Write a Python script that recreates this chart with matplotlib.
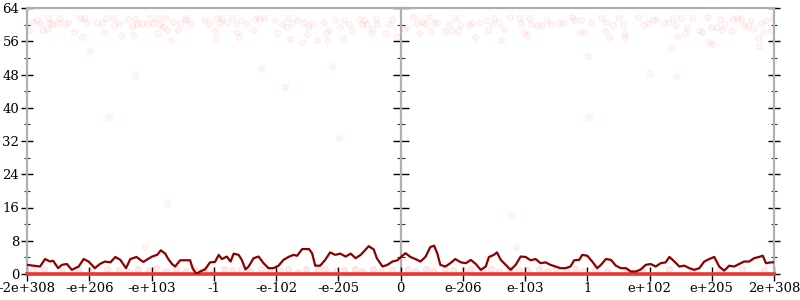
import matplotlib
matplotlib.use("Agg")
import matplotlib.pyplot as plt

# x axis is in "tick units": -6 = -2e+308 ... 0 ... 6 = 2e+308
tick_vals = [-6, -5, -4, -3, -2, -1, 0, 1, 2, 3, 4, 5, 6]
tick_labels = ["-2e+308", "-e+206", "-e+103", "-1", "-e-102", "-e-205", "0",
               "e-206", "e-103", "1", "e+102", "e+205", "2e+308"]
y_ticks = [0, 8, 16, 24, 32, 40, 48, 56, 64]

# smoothed error line (ulps)
line_x = [-6.0, -5.90, -5.79, -5.71, -5.63, -5.58, -5.50, -5.44, -5.36, -5.28, -5.17, -5.09,
          -5.01, -4.91, -4.83, -4.75, -4.66, -4.58, -4.50, -4.41, -4.34, -4.24, -4.18, -4.13,
          -4.08, -3.99, -3.91, -3.85, -3.78, -3.73, -3.67, -3.62, -3.54, -3.46, -3.38, -3.34,
          -3.28, -3.22, -3.14, -3.06, -2.98, -2.92, -2.87, -2.79, -2.73, -2.68, -2.60, -2.55,
          -2.49, -2.44, -2.36, -2.28, -2.20, -2.12, -2.04, -1.96, -1.88, -1.80, -1.72, -1.66,
          -1.58, -1.47, -1.42, -1.37, -1.29, -1.21, -1.13, -1.05, -0.97, -0.88, -0.80, -0.72,
          -0.64, -0.59, -0.51, -0.43, -0.38, -0.29, -0.21, -0.13, -0.05, 0.0,
          0.08, 0.16, 0.24, 0.32, 0.40, 0.48, 0.54, 0.59, 0.64, 0.72, 0.80, 0.88, 0.97, 1.05,
          1.13, 1.21, 1.29, 1.37, 1.42, 1.50, 1.55, 1.61, 1.69, 1.77, 1.85, 1.93, 2.01, 2.09,
          2.17, 2.25, 2.33, 2.41, 2.49, 2.57, 2.65, 2.73, 2.79, 2.87, 2.92, 3.00, 3.08, 3.16,
          3.22, 3.30, 3.38, 3.46, 3.54, 3.62, 3.70, 3.78, 3.86, 3.94, 4.02, 4.10, 4.18, 4.26,
          4.32, 4.40, 4.48, 4.56, 4.64, 4.72, 4.80, 4.88, 4.96, 5.04, 5.12, 5.20, 5.28, 5.36,
          5.44, 5.52, 5.60, 5.68, 5.76, 5.82, 5.87, 5.95, 6.0]
line_y = [2.2, 2.0, 1.8, 3.6, 3.0, 3.2, 1.4, 2.2, 2.4, 1.0, 1.8, 3.6,
          3.0, 1.4, 2.4, 3.0, 2.8, 4.1, 3.4, 1.4, 3.6, 4.1, 3.4, 2.9,
          3.4, 4.2, 4.6, 5.7, 4.9, 3.6, 2.4, 1.8, 3.3, 3.3, 3.3, 1.4,
          0.0, 0.6, 1.1, 2.8, 2.9, 4.6, 3.6, 4.2, 3.0, 4.9, 4.6, 3.4,
          1.1, 1.8, 3.8, 4.2, 2.6, 1.4, 1.4, 2.0, 3.4, 4.1, 4.6, 4.4,
          6.0, 6.0, 5.0, 2.0, 2.0, 3.4, 5.2, 4.6, 4.9, 4.2, 4.9, 3.8,
          4.6, 5.4, 6.7, 5.9, 3.8, 1.8, 2.2, 3.0, 3.3, 4.0,
          5.0, 4.1, 3.6, 3.0, 4.1, 6.5, 6.8, 5.0, 2.2, 1.8, 2.6, 3.6, 2.8, 2.6,
          3.4, 2.4, 1.0, 1.8, 4.1, 4.6, 5.2, 3.4, 2.2, 1.0, 2.2, 4.2, 4.1, 3.3,
          3.6, 2.6, 2.8, 2.2, 1.8, 1.4, 1.4, 1.8, 3.3, 3.4, 4.6, 4.4, 3.0, 1.4,
          2.2, 3.6, 3.4, 2.0, 1.4, 1.4, 0.6, 0.6, 1.1, 2.2, 2.4, 1.8, 2.6, 2.8,
          4.1, 3.0, 1.8, 2.0, 1.4, 1.0, 1.4, 3.0, 3.6, 4.1, 1.8, 0.8, 2.0, 1.8,
          2.4, 3.0, 3.0, 3.8, 4.1, 4.4, 2.6, 2.8, 2.8]

# individual error samples (high band)
pts_x = [-5.96, -5.92, -5.84, -5.79, -5.74, -5.68, -5.67, -5.63, -5.60, -5.50, -5.47, -5.39,
         -5.34, -5.25, -5.15, -5.12, -5.09, -5.03, -4.99, -4.88, -4.80, -4.76, -4.73, -4.69,
         -4.62, -4.60, -4.53, -4.49, -4.37, -4.32, -4.30, -4.27, -4.26, -4.24, -4.16, -4.08,
         -4.02, -3.98, -3.91, -3.89, -3.86, -3.81, -3.78, -3.75, -3.69, -3.65, -3.57, -3.54,
         -3.46, -3.44, -3.38, -3.16, -3.08, -2.98, -2.96, -2.95, -2.90, -2.87, -2.79, -2.71,
         -2.65, -2.63, -2.60, -2.57, -2.47, -2.37, -2.33, -2.28, -2.24, -2.20, -2.01, -1.99,
         -1.90, -1.85, -1.82, -1.81, -1.78, -1.74, -1.66, -1.58, -1.55, -1.51, -1.49, -1.42,
         -1.34, -1.23, -1.19, -1.18, -1.15, -1.10, -1.05, -0.99, -0.97, -0.92, -0.91, -0.83,
         -0.78, -0.67, -0.62, -0.59, -0.54, -0.48, -0.46, -0.40, -0.38, -0.24, -0.19, -0.13,
         -0.05,
         0.05, 0.11, 0.20, 0.27, 0.29, 0.35, 0.40, 0.46, 0.49, 0.54, 0.58, 0.72, 0.78, 0.83,
         0.87, 0.92, 0.95, 1.10, 1.13, 1.19, 1.26, 1.37, 1.40, 1.47, 1.51, 1.58, 1.62, 1.66,
         1.76, 1.90, 1.93, 1.99, 2.03, 2.06, 2.09, 2.20, 2.28, 2.36, 2.42, 2.55, 2.63, 2.76,
         2.79, 2.87, 2.90, 2.95, 3.02, 3.03, 3.06, 3.22, 3.28, 3.30, 3.35, 3.42, 3.51, 3.57,
         3.59, 3.60, 3.82, 3.90, 3.97, 4.01, 4.05, 4.10, 4.24, 4.29, 4.34, 4.37, 4.41, 4.44,
         4.43, 4.50, 4.57, 4.60, 4.69, 4.80, 4.85, 4.93, 4.96, 4.99, 5.01, 5.09, 5.14, 5.17,
         5.20, 5.31, 5.34, 5.40, 5.47, 5.52, 5.58, 5.63, 5.68, 5.75, 5.76, 5.79, 5.82, 5.87,
         5.95, 5.99,
         -3.75, -4.10, 1.77, 1.85]
pts_y = [58.8, 60.7, 61.0, 60.5, 58.8, 59.0, 61.5, 60.5, 60.2, 60.3, 61.5, 60.2,
         60.7, 58.3, 61.5, 57.0, 61.5, 60.7, 53.7, 60.7, 60.5, 58.3, 61.5, 37.8,
         61.5, 59.9, 60.5, 57.6, 61.3, 59.7, 57.6, 47.7, 61.3, 60.2, 60.5, 60.2,
         61.5, 60.5, 57.9, 61.5, 60.2, 59.5, 61.5, 58.7, 56.2, 60.7, 58.7, 60.3,
         61.5, 61.0, 60.2, 61.0, 60.5, 58.5, 56.7, 61.5, 60.5, 61.3, 60.7, 61.5,
         60.2, 58.3, 57.1, 61.0, 60.2, 58.8, 61.3, 61.3, 49.5, 61.5, 61.0, 58.0,
         60.2, 45.0, 59.5, 61.5, 56.5, 60.5, 61.1, 55.8, 60.7, 57.7, 59.7, 60.2,
         56.2, 60.7, 58.0, 56.3, 58.8, 50.0, 61.0, 32.7, 59.5, 56.7, 61.1, 60.2,
         58.8, 61.3, 60.2, 61.0, 60.2, 57.9, 59.0, 61.3, 60.2, 58.0, 60.2, 61.3,
         57.0,
         59.0, 59.5, 61.8, 60.3, 57.9, 60.7, 60.2, 61.8, 58.5, 60.5, 60.7, 58.5, 60.2, 58.5,
         61.5, 58.5, 59.9, 59.9, 60.5, 57.0, 60.5, 61.1, 58.7, 60.2, 61.5, 60.7, 56.3, 59.0,
         61.8, 61.5, 60.5, 58.3, 57.6, 61.5, 60.2, 59.7, 59.9, 61.0, 60.2, 60.5, 60.5, 61.8,
         61.0, 57.9, 61.0, 58.3, 52.5, 37.8, 60.7, 61.5, 58.5, 60.7, 57.0, 59.9, 61.5, 59.9,
         57.9, 57.0, 61.8, 59.9, 60.3, 48.4, 61.0, 61.3, 60.5, 60.7, 54.4, 61.5, 59.9, 57.3,
         47.6, 61.5, 58.0, 59.5, 61.5, 58.8, 58.3, 61.8, 55.8, 59.5, 55.4, 59.5, 61.3, 58.8,
         60.2, 58.5, 61.3, 61.5, 61.3, 59.9, 59.7, 61.0, 59.3, 56.7, 54.9, 60.5, 58.3, 61.0,
         58.8, 61.5,
         16.8, 6.5, 14.2, 6.5]

# individual error samples (low band, near 1 ulp)
low_x = [-5.9, -5.72, -5.43, -5.18, -4.97, -4.71, -4.52, -4.36, -4.21, -4.04, -3.92, -3.77,
         -3.61, -3.44, -3.31, -3.16, -3.02, -2.84, -2.71, -2.56, -2.41, -2.24, -2.11, -1.93,
         -1.81, -1.64, -1.52, -1.33, -1.21, -1.04, -0.91, -0.73, -0.62, -0.44, -0.31, -0.14,
         0.12, 0.24, 0.41, 0.53, 0.72, 0.84, 1.02, 1.14, 1.31, 1.46, 1.58, 1.76, 1.91, 2.04,
         2.22, 2.36, 2.49, 2.66, 2.81, 2.93, 3.12, 3.31, 3.62, 3.88, 4.31, 4.68, 5.12, 5.49,
         5.84]
low_y = [0.9, 1.2, 0.7, 1.1, 0.8, 1.3, 1.0, 0.6, 1.2, 0.9, 1.4, 0.7,
         1.1, 0.8, 1.3, 1.0, 0.6, 1.2, 0.9, 1.1, 0.7, 1.3, 1.0, 0.8,
         1.2, 0.6, 1.1, 0.9, 1.3, 0.7, 1.0, 1.2, 0.8, 1.1, 0.6, 1.0,
         1.2, 0.8, 1.1, 0.7, 1.3, 0.9, 1.0, 1.2, 0.6, 1.1, 0.8, 1.3, 0.9, 1.0,
         1.2, 0.7, 1.1, 0.9, 1.3, 0.8, 1.0, 0.7, 1.2, 0.9, 1.1, 0.8, 1.0, 1.2,
         0.9]

fig = plt.figure(figsize=(8, 3), dpi=100)
pos = [27 / 800, 1 - 274 / 300, (774 - 27) / 800, (274 - 8) / 300]
ax = fig.add_axes(pos)

ax.set_xlim(-6, 6)
ax.set_ylim(0, 64)

gray = "#b0b0b0"
for s in ["left", "right", "top", "bottom"]:
    ax.spines[s].set_color(gray)
    ax.spines[s].set_linewidth(1.6)

# zero-error samples: saturate to a solid red band on the axis
ax.axhline(0, color="#e53935", lw=2.6, zorder=4, clip_on=False)

ax.scatter(pts_x, pts_y, s=18, facecolor=(1, 0, 0, 0.03), edgecolor=(1, 0.2, 0.2, 0.08),
           linewidths=0.8, zorder=2)
ax.scatter(low_x, low_y, s=18, facecolor=(1, 0, 0, 0.08), edgecolor=(1, 0.2, 0.2, 0.12),
           linewidths=0.8, zorder=2, clip_on=False)

ax.plot(line_x, line_y, color="#8b0000", lw=1.6, zorder=5, solid_joinstyle="round")

ax.set_xticks(tick_vals)
ax.set_xticklabels(tick_labels)
ax.set_yticks(y_ticks)
ax.set_yticks([4, 12, 20, 28, 36, 44, 52, 60], minor=True)
ax.tick_params(axis="both", which="major", direction="inout", length=9, width=1.0,
               color="black", labelsize=9.5, pad=1)
ax.tick_params(axis="y", which="both", right=True, direction="inout")
ax.tick_params(axis="y", which="minor", length=5, width=0.8, color="#333333")
ax.tick_params(axis="x", which="major", length=10)
for lab in ax.get_xticklabels() + ax.get_yticklabels():
    lab.set_family("DejaVu Serif")

# central vertical axis with ticks on both sides
ax_mid = fig.add_axes(pos, facecolor="none")
ax_mid.set_xlim(-6, 6)
ax_mid.set_ylim(0, 64)
for s in ["right", "top", "bottom"]:
    ax_mid.spines[s].set_visible(False)
ax_mid.spines["left"].set_position(("data", 0))
ax_mid.spines["left"].set_color(gray)
ax_mid.spines["left"].set_linewidth(1.6)
ax_mid.set_xticks([])
ax_mid.set_yticks(y_ticks)
ax_mid.set_yticks([4, 12, 20, 28, 36, 44, 52, 60], minor=True)
ax_mid.set_yticklabels([])
ax_mid.tick_params(axis="y", which="major", direction="inout", length=12, width=1.0, color="black")
ax_mid.tick_params(axis="y", which="minor", direction="inout", length=6, width=0.8, color="#333333")
ax_mid.set_zorder(ax.get_zorder() - 1)
ax.set_facecolor("none")

fig.savefig("out.png", dpi=100)
